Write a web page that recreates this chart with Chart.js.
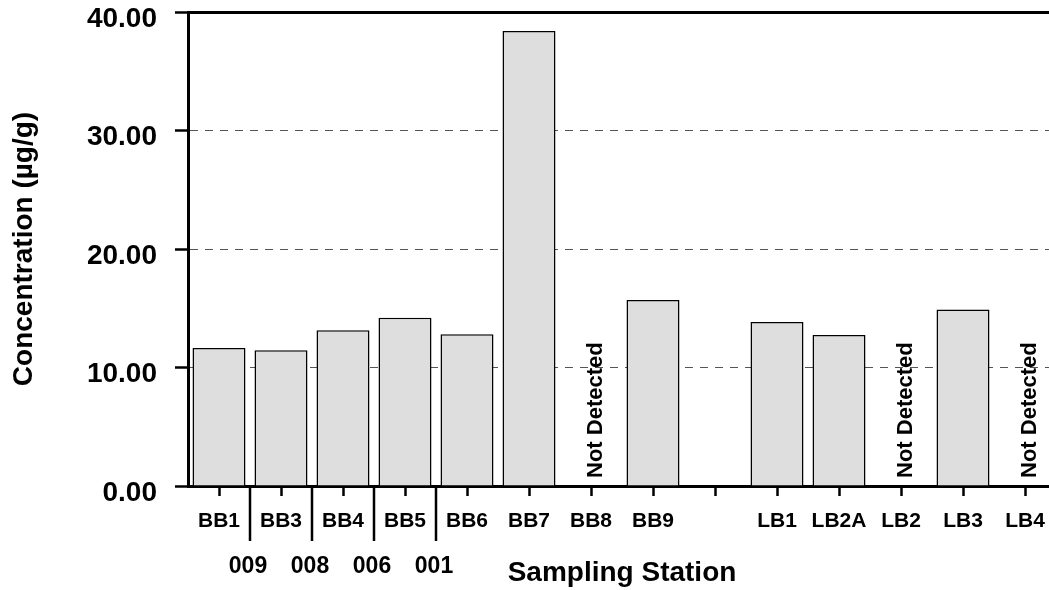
<!DOCTYPE html>
<html>
<head>
<meta charset="utf-8">
<script src="https://cdn.jsdelivr.net/npm/chart.js@4.4.0/dist/chart.umd.min.js"></script>
<style>
  html, body { margin: 0; padding: 0; background: #fff; overflow: hidden; }
  #chart { display: block; }
</style>
</head>
<body>
<canvas id="chart" width="1060" height="590"></canvas>
<script>
// stations along the x axis ('' is the empty gap between BB and LB)
const stations = ['BB1', 'BB3', 'BB4', 'BB5', 'BB6', 'BB7', 'BB8', 'BB9', '', 'LB1', 'LB2A', 'LB2', 'LB3', 'LB4'];
// concentration in ug/g, null = no bar
const concentration = [11.65, 11.45, 13.15, 14.2, 12.8, 38.4, null, 15.7, null, 13.85, 12.75, null, 14.9, null];
// stations without detection
const notDetected = ['BB8', 'LB2', 'LB4'];
// outfall numbers written under the dividers (after these stations)
const outfallAfter = ['BB1', 'BB3', 'BB4', 'BB5'];
const outfallLabels = ['009', '008', '006', '001'];
const yTicks = [0, 10, 20, 30, 40];

const FONT = 'Arial, "Liberation Sans", sans-serif';

const extraText = {
  id: 'extraText',
  afterDatasetsDraw(chart) {
    const ctx = chart.ctx;
    const x = chart.scales.x;
    const bottom = chart.chartArea.bottom;
    ctx.save();
    // "Not Detected" labels
    ctx.fillStyle = '#000';
    ctx.font = 'bold 22px ' + FONT;
    ctx.textAlign = 'left';
    ctx.textBaseline = 'middle';
    notDetected.forEach(function(s) {
      const px = x.getPixelForValue(stations.indexOf(s));
      ctx.save();
      ctx.translate(px + 5, bottom - 8);
      ctx.rotate(-Math.PI / 2);
      ctx.fillText('Not Detected', 0, 0);
      ctx.restore();
    });
    // dividers and outfall numbers
    ctx.strokeStyle = '#000';
    ctx.lineWidth = 2.5;
    ctx.font = 'bold 23px ' + FONT;
    ctx.textAlign = 'center';
    outfallAfter.forEach(function(s, i) {
      const idx = stations.indexOf(s);
      const px = (x.getPixelForValue(idx) + x.getPixelForValue(idx + 1)) / 2;
      ctx.beginPath();
      ctx.moveTo(px, bottom + 2);
      ctx.lineTo(px, bottom + 55);
      ctx.stroke();
      ctx.fillText(outfallLabels[i], px - 2, bottom + 81);
    });
    ctx.restore();
  }
};

new Chart(document.getElementById('chart'), {
  type: 'bar',
  plugins: [extraText],
  data: {
    labels: stations,
    datasets: [{
      data: concentration,
      backgroundColor: '#dedede',
      borderColor: '#000',
      borderWidth: 1.5,
      barPercentage: 0.855,
      categoryPercentage: 1
    }]
  },
  options: {
    responsive: false,
    animation: false,
    layout: { padding: { top: 12, right: 4, left: 0, bottom: 0 } },
    plugins: {
      legend: { display: false },
      tooltip: { enabled: false }
    },
    scales: {
      x: {
        afterFit: function(scale) {
          scale.height = 104;
        },
        grid: {
          offset: false,
          drawOnChartArea: false,
          drawTicks: true,
          tickLength: 10,
          tickColor: '#000',
          tickWidth: 2.5
        },
        border: { display: true, color: '#000', width: 3 },
        ticks: {
          color: '#000',
          padding: 13,
          maxRotation: 0,
          autoSkip: false,
          font: { family: FONT, size: 21, weight: 'bold' }
        },
        title: {
          display: true,
          text: 'Sampling Station',
          color: '#000',
          padding: { top: 24, bottom: 0 },
          font: { family: FONT, size: 28, weight: 'bold' }
        }
      },
      y: {
        min: 0,
        max: 40,
        afterBuildTicks: function(scale) {
          scale.ticks = yTicks.map(function(v) { return { value: v }; });
        },
        afterFit: function(scale) {
          scale.width = 188;
          scale.paddingTop = 0;
          scale.paddingBottom = 0;
        },
        grid: {
          color: function(c) {
            if (c.tick && c.tick.value === 40) return '#000';
            if (c.tick && c.tick.value === 0) return 'rgba(0,0,0,0)';
            return '#555';
          },
          lineWidth: function(c) {
            return c.tick && c.tick.value === 40 ? 3 : 1;
          },
          tickLength: 13,
          tickColor: '#000',
          tickWidth: 2.5
        },
        border: {
          display: true,
          color: '#000',
          width: 3,
          dash: function(c) {
            return c.tick && c.tick.value === 40 ? [] : [8, 7];
          }
        },
        ticks: {
          color: '#000',
          padding: 18,
          labelOffset: 7,
          font: { family: FONT, size: 28, weight: 'bold', lineHeight: 1 },
          callback: function(v) { return Number(v).toFixed(2); }
        },
        title: {
          display: true,
          text: 'Concentration (µg/g)',
          color: '#000',
          padding: { top: 7, bottom: 30 },
          font: { family: FONT, size: 28, weight: 'bold' }
        }
      }
    }
  }
});
</script>
</body>
</html>
